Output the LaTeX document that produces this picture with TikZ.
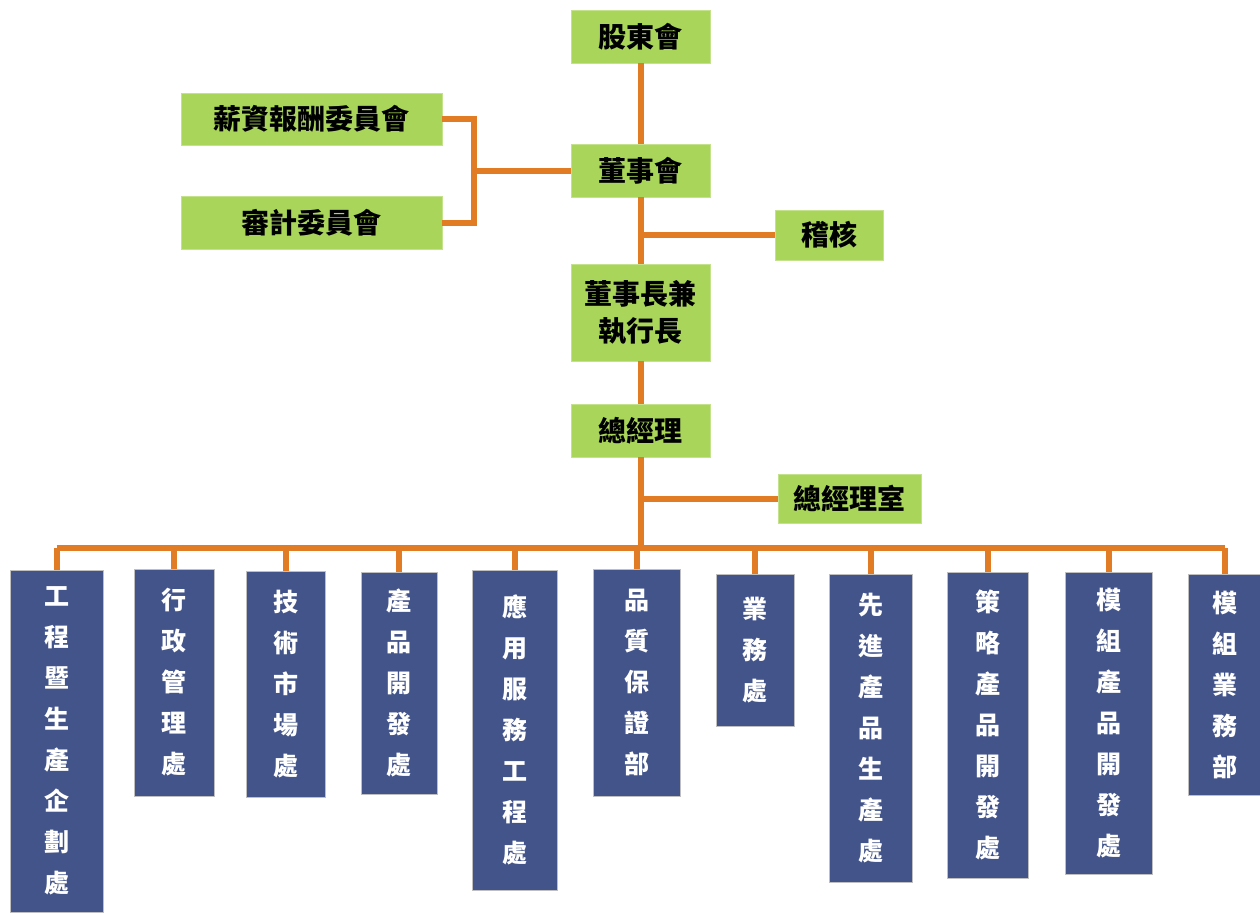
\documentclass[tikz,border=0pt]{standalone}
\usepackage{fontspec}
\setmainfont{Noto Sans CJK TC}
\usetikzlibrary{positioning}

\definecolor{boxgreen}{RGB}{169,214,90}
\definecolor{boxblue}{RGB}{67,84,138}
\definecolor{linkorange}{RGB}{226,124,36}

\begin{document}
\begin{tikzpicture}[x=0.5pt, y=-0.5pt]

% Define styles
\tikzstyle{gbox} = [rectangle, draw=boxgreen!70!white, fill=boxgreen, inner sep=0pt,
    minimum width=69.5pt, minimum height=26.5pt, align=center, font=\fontsize{14}{18.5}\selectfont\bfseries]
\tikzstyle{bbox} = [rectangle, draw=gray!50, fill=boxblue, text=white, inner sep=0pt,
    align=center, font=\fontsize{12.5}{20.5}\selectfont\bfseries]
\tikzstyle{line} = [draw=linkorange, line width=3pt]

\useasboundingbox (0,0) rectangle (1260,912);

% Place nodes
\node [gbox] (sh) at (640.5,36.5) {股東會};
\node [gbox] (board) at (640.5,170.5) {董事會};
\node [gbox, minimum width=54pt, minimum height=25pt] (audit) at (829,235) {稽核};
\node [gbox, minimum height=48.5pt] (ceo) at (640.5,312.5) {董事長兼\\執行長};
\node [gbox] (gm) at (640.5,430.5) {總經理};
\node [gbox, minimum width=71.5pt, minimum height=24.5pt] (gmo) at (849.5,498.5) {總經理室};
\node [gbox, minimum width=130.5pt, minimum height=26pt] (comp) at (311.5,119) {薪資報酬委員會};
\node [gbox, minimum width=130.5pt] (audcom) at (311.5,222.5) {審計委員會};

\node [bbox, minimum width=46.5pt, minimum height=171pt] (d1) at (56.5,741) {工\\程\\暨\\生\\產\\企\\劃\\處};
\node [bbox, minimum width=40pt, minimum height=113.5pt] (d2) at (174,682.5) {行\\政\\管\\理\\處};
\node [bbox, minimum width=39.5pt, minimum height=113pt] (d3) at (285.5,684) {技\\術\\市\\場\\處};
\node [bbox, minimum width=38pt, minimum height=111pt] (d4) at (399,683) {產\\品\\開\\發\\處};
\node [bbox, minimum width=42.5pt, minimum height=160pt] (d5) at (514.5,730) {應\\用\\服\\務\\工\\程\\處};
\node [bbox, minimum width=43.5pt, minimum height=113.5pt] (d6) at (636.5,682.5) {品\\質\\保\\證\\部};
\node [bbox, minimum width=39pt, minimum height=76pt] (d7) at (755,650) {業\\務\\處};
\node [bbox, minimum width=41.5pt, minimum height=154pt] (d8) at (870.5,728) {先\\進\\產\\品\\生\\產\\處};
\node [bbox, minimum width=40.5pt, minimum height=153pt] (d9) at (987.5,725) {策\\略\\產\\品\\開\\發\\處};
\node [bbox, minimum width=43.5pt, minimum height=151pt] (d10) at (1108.5,723) {模\\組\\產\\品\\開\\發\\處};
\node [bbox, minimum width=37pt, minimum height=110.5pt] (d11) at (1225,684.5) {模\\組\\業\\務\\部};

% Junction points
\path (board.west) ++(-97,0) coordinate (jn);
\coordinate (bus) at (632,548);

% Draw edges
\path [line] (sh) -- (board);
\path [line] (comp.east) -| (jn) |- (audcom.east);
\path [line] (jn) -- (board.west);
\path [line] (board) -- (ceo);
\path [line] (audit.west) -- (audit.west -| board.south);
\path [line] (ceo) -- (gm);
\path [line] (gm.south) -- (gm.south |- bus);
\path [line] (gmo.west) -- (gmo.west -| gm.south);
\path [line] (d1.north |- bus) -- (d11.north |- bus);
\foreach \d in {d1,d2,d3,d4,d5,d6,d7,d8,d9,d10,d11}
    \path [line] (\d.north) -- (\d.north |- bus);

\end{tikzpicture}
\end{document}
